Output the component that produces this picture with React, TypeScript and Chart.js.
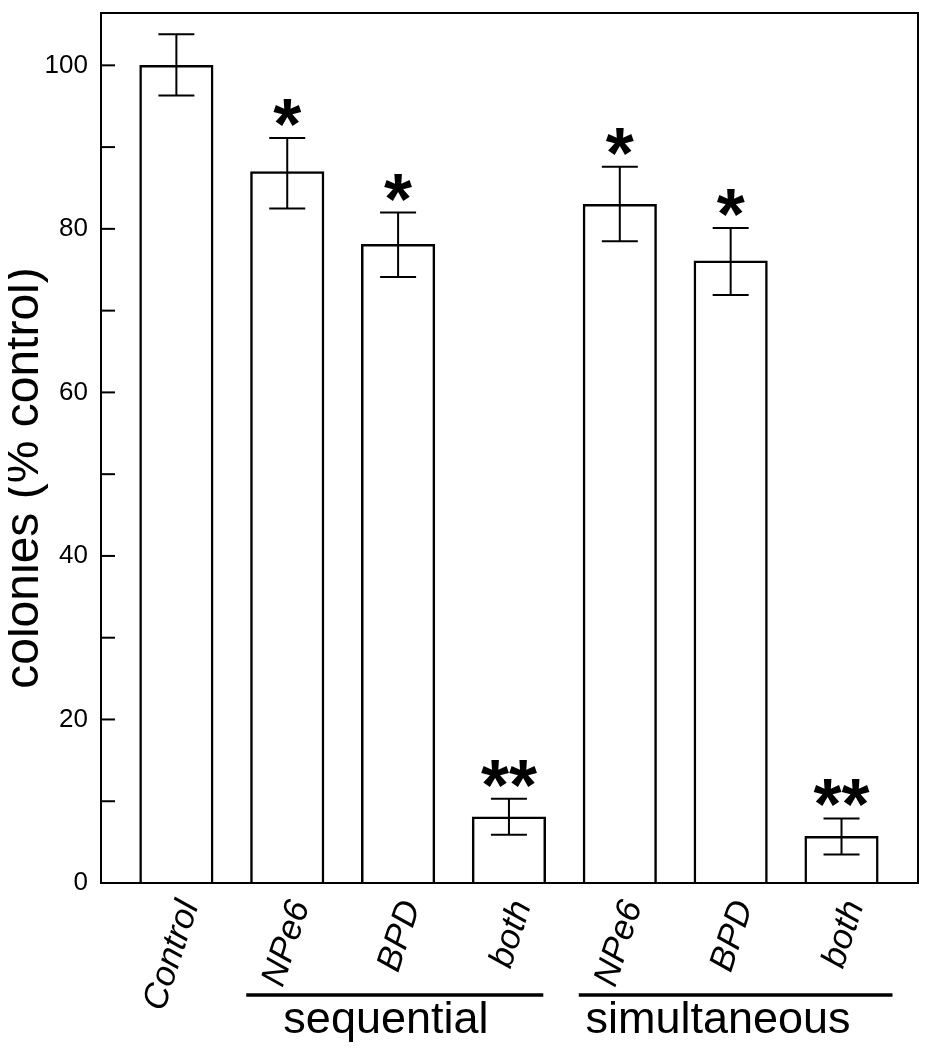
import React, { useEffect, useRef } from "react";
import { Chart, registerables } from "chart.js";

Chart.register(...registerables);

// ---- data ----
const categories = ["Control", "NPe6", "BPD", "both", "NPe6", "BPD", "both"];
const means = [100, 87.0, 78.1, 8.1, 83.0, 76.1, 5.7];
const errUpper = [103.8, 91.1, 82.0, 10.3, 87.6, 80.1, 7.9];
const errLower = [96.3, 82.5, 74.1, 5.9, 78.5, 71.9, 3.5];
const significance = ["", "*", "*", "**", "*", "*", "**"];
const groupLabels = ["sequential", "simultaneous"];
const yTickValues = [0, 10, 20, 30, 40, 50, 60, 70, 80, 90, 100];
const yTitle = "colonies (% control)";

// ---- layout (positions in category-index units / pixels) ----
const groupLines = [
  { from: 0.63, to: 3.31, textLeft: 0.965 },
  { from: 3.63, to: 6.46, textLeft: 3.69 },
];

const FONT = '"Liberation Sans", Arial, Helvetica, sans-serif';
const W = 914;
const H = 1042;

const overlay = {
  id: "overlay",
  afterDatasetsDraw(chart: any) {
    const { ctx, chartArea: ca, scales } = chart;
    const x = scales.x;
    const y = scales.y;
    ctx.save();
    ctx.strokeStyle = "#000";
    ctx.fillStyle = "#000";

    // error bars + significance stars
    means.forEach((_, i) => {
      const cx = x.getPixelForValue(i);
      const yt = y.getPixelForValue(errUpper[i]);
      const yb = y.getPixelForValue(errLower[i]);
      ctx.lineWidth = 2;
      ctx.beginPath();
      ctx.moveTo(cx, yt);
      ctx.lineTo(cx, yb);
      ctx.moveTo(cx - 18, yt);
      ctx.lineTo(cx + 18, yt);
      ctx.moveTo(cx - 18, yb);
      ctx.lineTo(cx + 18, yb);
      ctx.stroke();
      const s = significance[i];
      if (s) {
        ctx.font = `bold 72px ${FONT}`;
        ctx.textAlign = "left";
        ctx.textBaseline = "alphabetic";
        const m = ctx.measureText(s);
        const inkW = m.actualBoundingBoxLeft + m.actualBoundingBoxRight;
        const drawX = cx - inkW / 2 + m.actualBoundingBoxLeft;
        const baseline = yt - 12 - m.actualBoundingBoxDescent;
        ctx.fillText(s, drawX, baseline);
      }
    });

    // frame
    ctx.lineWidth = 2;
    ctx.strokeRect(ca.left, ca.top, ca.right - ca.left, ca.bottom - ca.top);

    // inward tick marks
    ctx.lineWidth = 2;
    yTickValues.forEach((v) => {
      if (v === 0) return;
      const py = y.getPixelForValue(v);
      ctx.beginPath();
      ctx.moveTo(ca.left, py);
      ctx.lineTo(ca.left + 14, py);
      ctx.stroke();
    });

    // rotated category labels
    ctx.font = `italic 35px ${FONT}`;
    ctx.textAlign = "right";
    ctx.textBaseline = "middle";
    categories.forEach((c, i) => {
      const cx = x.getPixelForValue(i);
      ctx.save();
      ctx.translate(cx + 13, ca.bottom + 19);
      ctx.rotate((-72 * Math.PI) / 180);
      ctx.fillText(c, 0, 0);
      ctx.restore();
    });

    // group lines and labels
    groupLines.forEach((g, k) => {
      const x1 = x.getPixelForValue(g.from);
      const x2 = x.getPixelForValue(g.to);
      ctx.lineWidth = 3.5;
      ctx.beginPath();
      ctx.moveTo(x1, ca.bottom + 112);
      ctx.lineTo(x2, ca.bottom + 112);
      ctx.stroke();
      ctx.font = `45px ${FONT}`;
      ctx.textAlign = "left";
      ctx.textBaseline = "alphabetic";
      ctx.fillText(groupLabels[k], x.getPixelForValue(g.textLeft), ca.bottom + 150);
    });

    // y title
    ctx.save();
    ctx.translate(17, 470);
    ctx.rotate(-Math.PI / 2);
    ctx.font = `48px ${FONT}`;
    ctx.textAlign = "center";
    ctx.textBaseline = "middle";
    ctx.fillText(yTitle, 0, 0);
    ctx.restore();

    ctx.restore();
  },
};

export default function App() {
  const ref = useRef<HTMLCanvasElement>(null);
  useEffect(() => {
    if (!ref.current) return;
    const chart = new Chart(ref.current, {
      type: "bar",
      data: {
        datasets: [
          {
            data: means.map((v, i) => ({ x: i, y: v })),
            backgroundColor: "#ffffff",
            borderColor: "#000000",
            borderWidth: 2.5,
            barThickness: 73.5,
          },
        ],
      },
      options: {
        responsive: false,
        animation: false,
        layout: { padding: { left: 0, top: 5, right: 4, bottom: 167 } },
        plugins: { legend: { display: false }, tooltip: { enabled: false } },
        scales: {
          x: {
            type: "linear",
            min: -0.68,
            max: 6.69,
            offset: false,
            display: false,
            grid: { offset: false },
          },
          y: {
            min: 0,
            max: 106.4,
            afterFit: (s: any) => {
              s.width = 93;
              s.paddingTop = 0;
              s.paddingBottom = 0;
            },
            grid: { display: false, drawTicks: false },
            border: { display: false },
            ticks: {
              stepSize: 10,
              autoSkip: false,
              padding: 13,
              color: "#000",
              font: { size: 26, family: FONT },
              callback: (v: any) => (Number(v) % 20 === 0 ? String(v) : ""),
            },
          },
        },
      },
      plugins: [overlay],
    });
    return () => chart.destroy();
  }, []);
  return <canvas ref={ref} width={W} height={H} style={{ display: "block" }} />;
}
